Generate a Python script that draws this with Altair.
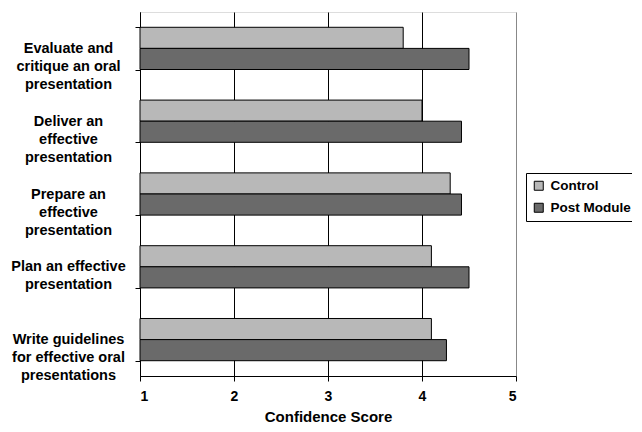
import altair as alt
import pandas as pd

categories = [
    "Evaluate and|critique an oral|presentation",
    "Deliver an|effective|presentation",
    "Prepare an|effective|presentation",
    "Plan an effective|presentation",
    "Write guidelines|for effective oral|presentations",
]
series = ["Control", "Post Module"]
control = [3.8, 4.0, 4.3, 4.1, 4.1]
post_module = [4.5, 4.42, 4.42, 4.5, 4.26]
x_ticks = [1, 2, 3, 4, 5]

rows = []
for c, v1, v2 in zip(categories, control, post_module):
    rows.append({"cat": c, "series": "Control", "value": v1, "base": 1})
    rows.append({"cat": c, "series": "Post Module", "value": v2, "base": 1})
df = pd.DataFrame(rows)

FONT = "Liberation Sans"

chart = (
    alt.Chart(df)
    .mark_bar(stroke="black", strokeWidth=1)
    .encode(
        y=alt.Y(
            "cat:N",
            sort=categories,
            scale=alt.Scale(paddingInner=0.42, paddingOuter=0.21),
            axis=alt.Axis(
                title=None,
                labelExpr="split(datum.label, '|')",
                labelAlign="center",
                labelBaseline="middle",
                labelPadding=67,
                labelFontSize=14.5,
                labelFontWeight="bold",
                labelFont=FONT,
                labelColor="black",
                labelLineHeight=18,
                tickBand="extent",
                tickSize=5,
                tickColor="black",
                domainColor="black",
                grid=False,
            ),
        ),
        yOffset=alt.YOffset(
            "series:N",
            sort=series,
            scale=alt.Scale(paddingInner=0, paddingOuter=0),
        ),
        x=alt.X(
            "value:Q",
            scale=alt.Scale(domain=[1, 5], zero=False, nice=False),
            axis=alt.Axis(
                title="Confidence Score",
                values=x_ticks,
                format="d",
                labelFontSize=14,
                labelFontWeight="bold",
                labelFont=FONT,
                labelColor="black",
                labelPadding=8,
                titleFontSize=15,
                titleFontWeight="bold",
                titleFont=FONT,
                titleColor="black",
                titlePadding=6,
                tickSize=5,
                tickColor="black",
                domainColor="black",
                grid=True,
                gridColor=alt.condition(
                    "datum.value == 5", alt.value("#888888"), alt.value("black")
                ),
                gridOpacity=1,
            ),
        ),
        x2="base:Q",
        fill=alt.Fill(
            "series:N",
            scale=alt.Scale(domain=series, range=["#b8b8b8", "#6a6a6a"]),
            legend=alt.Legend(
                title=None,
                orient="none",
                legendX=386,
                legendY=161,
                strokeColor="black",
                padding=6,
                symbolType="square",
                symbolSize=81,
                symbolStrokeColor="black",
                symbolStrokeWidth=1,
                labelFontSize=13.5,
                labelFontWeight="bold",
                labelFont=FONT,
                labelColor="black",
                rowPadding=7,
                labelOffset=5,
            ),
        ),
    )
    .properties(
        width=376,
        height=364,
        autosize=alt.AutoSizeParams(type="none"),
        padding={"left": 132, "top": 4, "right": 116, "bottom": 47},
    )
    .configure_view(stroke="#888888", strokeWidth=1)
    .configure(background="white")
)

chart.save("out.html", embed_options={"renderer": "svg", "actions": False})
